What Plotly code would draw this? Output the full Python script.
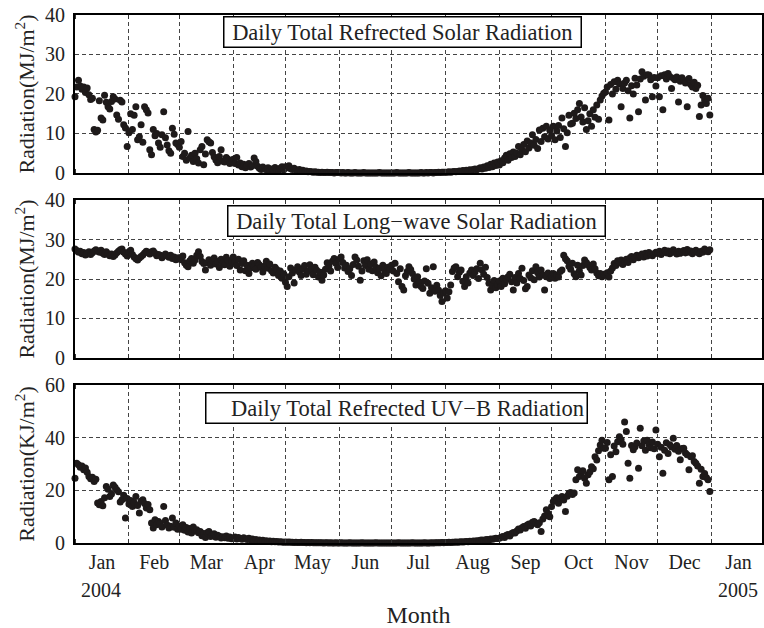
import pandas as pd
import plotly.graph_objects as go
from plotly.subplots import make_subplots

# ---------------- data (daily values, one list per month) ----------------
MONTH_STARTS = ["2004-01-01", "2004-02-01", "2004-03-01", "2004-04-01", "2004-05-01", "2004-06-01",
                "2004-07-01", "2004-08-01", "2004-09-01", "2004-10-01", "2004-11-01", "2004-12-01"]

# Daily total reflected solar radiation (MJ/m2)
solar_refl = [
    [19.3, 21.8, 23.5, 22.0, 21.2, 21.8, 20.4, 21.5, 19.8, 18.6, 18.9, 11.0, 10.4, 10.8, 18.3, 13.9, 13.4, 19.7, 17.9, 16.8, 16.2, 18.1, 19.3, 18.7, 14.7, 13.6, 18.4, 18.0, 12.2, 11.4, 6.7],
    [10.2, 15.0, 11.0, 14.6, 16.8, 8.4, 9.2, 12.2, 7.8, 16.8, 16.0, 15.2, 5.9, 4.6, 11.0, 9.4, 10.0, 7.6, 6.5, 9.7, 15.5, 8.9, 7.1, 5.6, 5.0, 11.3, 9.8, 7.6, 7.2],
    [6.5, 8.0, 4.2, 5.0, 3.2, 10.5, 3.8, 4.5, 2.9, 5.0, 3.6, 2.5, 5.9, 6.7, 2.1, 4.8, 8.4, 7.9, 7.6, 5.2, 4.1, 3.3, 2.6, 4.2, 5.9, 3.0, 2.8, 3.9, 3.5, 2.4, 3.1],
    [3.5, 2.4, 3.9, 2.0, 2.5, 1.6, 2.2, 1.3, 1.9, 2.4, 1.5, 1.8, 3.8, 2.9, 1.7, 1.2, 0.9, 1.5, 1.1, 0.8, 1.3, 0.6, 1.0, 0.7, 1.4, 0.9, 0.5, 1.2, 1.6, 0.8],
    [1.6, 1.3, 1.8, 1.1, 0.9, 1.2, 0.8, 0.6, 0.9, 0.5, 0.7, 0.4, 0.5, 0.3, 0.4, 0.3, 0.2, 0.3, 0.2, 0.2, 0.1, 0.2, 0.1, 0.1, 0.2, 0.1, 0.1, 0.1, 0.0, 0.1, 0.1],
    [0.1, 0.0, 0.1, 0.0, 0.0, 0.1, 0.0, 0.0, 0.0, 0.1, 0.0, 0.0, 0.0, 0.0, 0.1, 0.0, 0.0, 0.0, 0.0, 0.0, 0.0, 0.0, 0.0, 0.1, 0.0, 0.0, 0.0, 0.0, 0.0, 0.0],
    [0.0, 0.0, 0.0, 0.1, 0.0, 0.0, 0.0, 0.0, 0.0, 0.0, 0.1, 0.0, 0.0, 0.0, 0.0, 0.0, 0.0, 0.1, 0.0, 0.0, 0.1, 0.0, 0.1, 0.1, 0.0, 0.1, 0.1, 0.2, 0.1, 0.2, 0.2],
    [0.2, 0.2, 0.3, 0.2, 0.3, 0.4, 0.3, 0.4, 0.5, 0.4, 0.6, 0.5, 0.7, 0.6, 0.8, 0.7, 0.9, 1.0, 0.8, 1.1, 1.3, 1.0, 1.5, 1.2, 1.8, 1.4, 2.2, 1.6, 2.5, 1.9, 2.8],
    [2.0, 3.1, 2.6, 3.8, 4.5, 3.2, 4.9, 3.9, 5.3, 4.2, 5.0, 6.7, 4.6, 5.8, 7.2, 5.4, 8.1, 6.3, 7.6, 9.7, 7.0, 8.5, 6.2, 10.9, 8.0, 11.3, 9.2, 11.8, 8.6, 10.8],
    [9.5, 11.8, 8.4, 10.6, 12.0, 9.0, 13.9, 11.2, 6.7, 10.2, 14.6, 12.4, 12.6, 15.1, 13.8, 16.0, 17.6, 14.2, 12.9, 16.5, 11.0, 13.2, 15.0, 11.8, 16.0, 14.1, 17.2, 13.6, 18.5, 19.5, 20.2],
    [20.5, 21.8, 13.4, 22.4, 20.0, 23.1, 21.2, 23.5, 22.6, 16.8, 21.4, 22.8, 23.5, 20.8, 13.9, 22.1, 20.0, 24.0, 22.3, 15.5, 23.8, 25.6, 24.5, 18.5, 24.9, 24.8, 23.6, 19.3, 24.2, 22.0],
    [24.1, 19.3, 24.6, 16.0, 24.9, 23.8, 25.2, 24.4, 21.4, 24.0, 23.6, 24.3, 18.0, 23.2, 24.1, 23.5, 22.8, 16.8, 23.9, 22.4, 21.8, 23.0, 21.4, 22.2, 14.3, 17.2, 19.6, 18.5, 17.6, 18.9, 14.7],
]

# Daily total long-wave radiation (MJ/m2)
longwave = [
    [27.6, 27.2, 26.8, 27.0, 26.4, 26.7, 26.1, 26.5, 26.9, 26.2, 26.6, 27.1, 27.4, 27.0, 26.8, 27.3, 26.5, 26.2, 26.9, 26.4, 25.9, 26.3, 25.7, 26.1, 26.6, 27.0, 27.4, 27.6, 26.8, 26.3, 25.8],
    [26.9, 27.3, 26.2, 25.6, 25.1, 24.8, 25.3, 25.7, 26.1, 26.6, 27.0, 26.8, 26.3, 26.9, 27.1, 26.5, 25.9, 26.2, 26.0, 25.4, 25.8, 26.3, 25.9, 25.5, 26.0, 25.2, 25.6, 24.9, 25.3],
    [25.4, 24.9, 25.8, 24.1, 23.5, 23.1, 24.6, 25.2, 24.0, 24.8, 26.0, 26.9, 25.7, 24.4, 23.9, 22.3, 24.1, 24.9, 23.5, 24.6, 25.3, 23.8, 24.5, 22.9, 25.0, 24.2, 23.6, 25.5, 24.7, 23.2, 24.3],
    [25.6, 24.3, 23.4, 25.0, 22.3, 23.9, 24.6, 22.1, 23.5, 21.4, 22.8, 24.0, 23.1, 22.5, 24.2, 23.6, 22.9, 21.8, 23.3, 24.5, 22.7, 23.8, 22.1, 21.5, 23.0, 22.4, 20.9, 22.0, 20.2, 21.3],
    [19.2, 18.1, 20.6, 22.8, 21.5, 19.0, 22.3, 23.1, 21.8, 20.9, 22.6, 23.4, 21.2, 22.0, 23.6, 22.4, 21.1, 23.0, 22.2, 20.5, 21.7, 19.7, 21.0, 22.5, 24.1, 23.3, 22.0, 24.5, 25.2, 24.0, 22.9],
    [25.0, 25.6, 24.2, 22.8, 23.5, 21.9, 22.6, 20.9, 23.7, 25.6, 24.8, 23.2, 19.7, 22.0, 24.6, 23.4, 24.9, 22.5, 23.8, 22.1, 24.3, 23.0, 21.6, 22.7, 20.8, 23.5, 22.2, 21.4, 23.0, 22.4],
    [23.5, 22.0, 24.0, 21.4, 19.3, 22.6, 18.1, 17.2, 20.8, 21.9, 23.1, 22.4, 21.4, 20.0, 18.5, 20.6, 19.2, 18.1, 17.6, 19.5, 22.6, 18.9, 16.4, 17.8, 23.1, 16.9, 18.4, 17.2, 15.8, 14.3, 16.5],
    [17.0, 15.2, 16.8, 18.5, 21.9, 22.8, 23.1, 20.6, 21.7, 22.3, 19.4, 18.1, 20.6, 19.0, 21.5, 22.3, 20.9, 21.8, 22.6, 20.1, 24.0, 22.3, 21.2, 23.0, 20.4, 18.9, 17.2, 18.4, 19.6, 17.8, 18.6],
    [19.5, 18.1, 20.2, 18.8, 19.9, 20.6, 21.2, 19.3, 17.2, 20.4, 19.0, 21.4, 20.1, 22.7, 19.6, 17.5, 18.1, 21.0, 20.3, 22.1, 19.8, 23.1, 21.6, 20.5, 22.3, 21.0, 17.2, 20.6, 21.5, 20.1],
    [20.8, 21.4, 20.2, 21.0, 20.5, 21.9, 22.3, 26.0, 25.1, 24.6, 23.2, 22.5, 24.0, 21.3, 20.6, 23.5, 22.1, 21.0, 23.4, 24.8, 24.2, 23.6, 22.9, 22.3, 23.8, 22.6, 21.5, 20.8, 21.4, 20.6, 21.2],
    [21.0, 21.6, 20.5, 22.0, 22.8, 23.9, 23.4, 24.6, 24.1, 24.8, 23.7, 24.5, 25.0, 24.2, 25.3, 25.7, 24.9, 25.5, 26.0, 25.4, 25.9, 26.3, 25.6, 26.5, 25.8, 26.7, 26.2, 25.9, 26.4, 26.8],
    [26.5, 27.0, 26.2, 26.8, 27.3, 26.6, 27.1, 26.4, 26.9, 27.4, 26.7, 26.3, 27.0, 26.5, 26.9, 27.2, 26.6, 27.5, 26.8, 27.1, 26.4, 26.9, 27.3, 26.7, 26.4, 27.0, 26.8, 27.6, 27.2, 26.9, 27.4],
]

# Daily total reflected UV-B radiation (KJ/m2)
uvb_refl = [
    [24.6, 30.3, 29.7, 28.8, 29.2, 27.8, 28.5, 26.9, 25.3, 24.4, 25.0, 23.4, 24.2, 15.2, 14.5, 15.8, 14.1, 17.2, 21.5, 20.4, 17.7, 18.6, 22.0, 21.2, 20.2, 19.5, 15.6, 16.4, 18.1, 9.5, 16.9],
    [14.8, 16.1, 13.9, 15.4, 17.7, 14.2, 11.4, 15.9, 16.4, 15.0, 13.3, 14.6, 12.6, 7.6, 5.7, 8.8, 6.9, 8.2, 7.4, 6.1, 13.9, 8.5, 6.8, 5.7, 6.4, 9.5, 6.0, 7.6, 5.2],
    [6.5, 5.2, 6.9, 4.8, 5.9, 4.2, 5.5, 3.8, 6.1, 4.6, 5.0, 3.9, 4.4, 2.8, 3.6, 2.1, 3.9, 4.4, 2.5, 3.1, 3.5, 2.2, 2.9, 2.6, 1.9, 2.4, 2.0, 2.7, 1.8, 2.3, 1.6],
    [1.9, 2.3, 1.5, 2.1, 1.7, 1.4, 2.0, 1.6, 1.3, 1.8, 1.2, 1.5, 1.0, 1.3, 0.9, 1.1, 0.8, 1.0, 0.7, 0.9, 0.6, 0.8, 0.5, 0.7, 0.5, 0.6, 0.4, 0.5, 0.4, 0.3],
    [0.4, 0.3, 0.4, 0.3, 0.3, 0.2, 0.3, 0.2, 0.2, 0.3, 0.2, 0.2, 0.1, 0.2, 0.1, 0.2, 0.1, 0.1, 0.1, 0.1, 0.1, 0.1, 0.0, 0.1, 0.1, 0.0, 0.1, 0.0, 0.0, 0.1, 0.0],
    [0.0, 0.1, 0.0, 0.0, 0.0, 0.0, 0.1, 0.0, 0.0, 0.0, 0.0, 0.0, 0.0, 0.1, 0.0, 0.0, 0.0, 0.0, 0.0, 0.0, 0.0, 0.1, 0.0, 0.0, 0.0, 0.0, 0.0, 0.0, 0.0, 0.0],
    [0.0, 0.0, 0.0, 0.0, 0.1, 0.0, 0.0, 0.0, 0.0, 0.0, 0.0, 0.0, 0.1, 0.0, 0.0, 0.0, 0.0, 0.0, 0.0, 0.1, 0.0, 0.0, 0.0, 0.1, 0.0, 0.1, 0.1, 0.1, 0.1, 0.2, 0.1],
    [0.2, 0.2, 0.3, 0.2, 0.3, 0.3, 0.4, 0.3, 0.4, 0.5, 0.4, 0.5, 0.6, 0.5, 0.7, 0.6, 0.8, 0.7, 0.9, 0.8, 1.0, 1.1, 0.9, 1.2, 1.3, 1.1, 1.5, 1.4, 1.6, 1.8, 1.7],
    [1.8, 2.2, 2.5, 2.1, 2.9, 3.2, 2.7, 3.6, 4.0, 3.8, 4.6, 5.3, 4.9, 5.8, 6.3, 5.6, 6.8, 7.2, 6.5, 7.9, 8.2, 7.4, 6.9, 7.7, 4.4, 9.1, 10.3, 12.6, 11.2, 10.0],
    [13.8, 15.8, 16.5, 17.2, 15.1, 16.9, 17.7, 16.3, 12.0, 17.8, 18.9, 19.2, 18.4, 19.0, 24.0, 27.8, 25.3, 26.1, 27.4, 24.6, 22.7, 25.9, 27.0, 29.0, 28.2, 32.8, 31.5, 35.0, 37.2, 39.0, 36.0],
    [36.0, 38.2, 24.0, 33.5, 25.3, 36.8, 34.7, 38.5, 40.4, 39.2, 37.5, 46.0, 42.3, 30.3, 24.6, 37.0, 35.4, 36.6, 38.0, 28.4, 43.6, 36.9, 38.7, 35.2, 39.0, 37.4, 36.2, 38.4, 35.8, 42.9],
    [37.5, 32.8, 36.4, 26.5, 35.2, 38.1, 34.0, 37.3, 36.5, 39.8, 35.6, 37.0, 34.8, 31.6, 35.9, 36.0, 34.2, 33.5, 27.8, 32.8, 33.1, 31.0, 30.3, 29.2, 22.7, 28.0, 25.3, 26.4, 24.9, 24.0, 19.6],
]

PANEL_TITLES = ["Daily Total Refrected Solar Radiation",
                "Daily Total Long\u2212wave Solar Radiation",
                "Daily Total Refrected UV\u2212B Radiation"]
Y_TITLES = ["Radiation(MJ/m<sup>2</sup>)", "Radiation(MJ/m<sup>2</sup>)", "Radiation(KJ/m<sup>2</sup>)"]
Y_RANGES = [[0, 40], [0, 40], [0, 60]]
Y_DTICKS = [10, 10, 20]
YEAR_LABELS = [("2004-01-16", "2004"), ("2005-01-16", "2005")]


def flatten(monthly):
    xs, ys = [], []
    for start, vals in zip(MONTH_STARTS, monthly):
        s = pd.Timestamp(start)
        for i, v in enumerate(vals):
            xs.append(s + pd.Timedelta(days=i))
            ys.append(v)
    return xs, ys


FONT = "Liberation Serif"
INK = "#1e1a1a"
TXT = "#222"
NB = "\u00a0"

fig = make_subplots(rows=3, cols=1, shared_xaxes=True)

for r, series in enumerate([solar_refl, longwave, uvb_refl], start=1):
    xs, ys = flatten(series)
    fig.add_trace(go.Scatter(x=xs, y=ys, mode="markers", cliponaxis=False,
                             marker=dict(size=7, color=INK, line=dict(width=0)),
                             showlegend=False), row=r, col=1)

domains = [[0.7008, 1.0], [0.3504, 0.6496], [0.0, 0.2992]]
for r in range(1, 4):
    fig.update_yaxes(domain=domains[r - 1], range=Y_RANGES[r - 1], dtick=Y_DTICKS[r - 1],
                     tick0=0, showgrid=True, gridcolor="#444", griddash="4px,3px", gridwidth=1,
                     zeroline=False, showline=True, mirror=True, linecolor="black", linewidth=2,
                     ticks="", ticklabelstandoff=4, automargin=False,
                     tickfont=dict(family=FONT, size=20, color=TXT),
                     title=dict(text=Y_TITLES[r - 1], font=dict(family=FONT, size=22, color=TXT),
                                standoff=4),
                     row=r, col=1)
    fig.update_xaxes(type="date", range=["2004-01-01", "2005-01-30"], tick0="2004-01-01",
                     dtick="M1", tickformat="%b", ticklabelmode="period", tickangle=0,
                     showgrid=True, gridcolor="#444",
                     griddash="4px,3px", gridwidth=1, zeroline=False, showline=True, mirror="ticks",
                     linecolor="black", linewidth=2, ticks="inside", ticklen=4, tickwidth=1,
                     tickcolor="#333", automargin=False,
                     tickfont=dict(family=FONT, size=20, color=TXT),
                     row=r, col=1)

fig.update_xaxes(showticklabels=True, ticklabelstandoff=0,
                 title=dict(text="Month", font=dict(family=FONT, size=24, color=TXT), standoff=33),
                 row=3, col=1)

for xv, t in YEAR_LABELS:
    fig.add_annotation(x=xv, y=-0.089, xref="x3", yref="paper", text=t, showarrow=False,
                       font=dict(family=FONT, size=20, color=TXT), xanchor="center", yanchor="middle")

ann_pos = [(0.476, 0.9669), (0.497, 0.6098), (0.468, 0.2566)]
ann_text = [NB + PANEL_TITLES[0] + NB, NB + PANEL_TITLES[1] + NB, NB * 4 + PANEL_TITLES[2]]
for (ax_, ay_), t in zip(ann_pos, ann_text):
    fig.add_annotation(x=ax_, y=ay_, xref="paper", yref="paper", text=t, showarrow=False,
                       xanchor="center", yanchor="middle",
                       font=dict(family=FONT, size=22.5, color=TXT), bgcolor="white",
                       bordercolor="black", borderwidth=1.5, borderpad=2)

fig.update_layout(width=764, height=628, margin=dict(l=75, r=2, t=15, b=85),
                  plot_bgcolor="white", paper_bgcolor="white",
                  font=dict(family=FONT, color=TXT))

fig.write_html("out.html")
